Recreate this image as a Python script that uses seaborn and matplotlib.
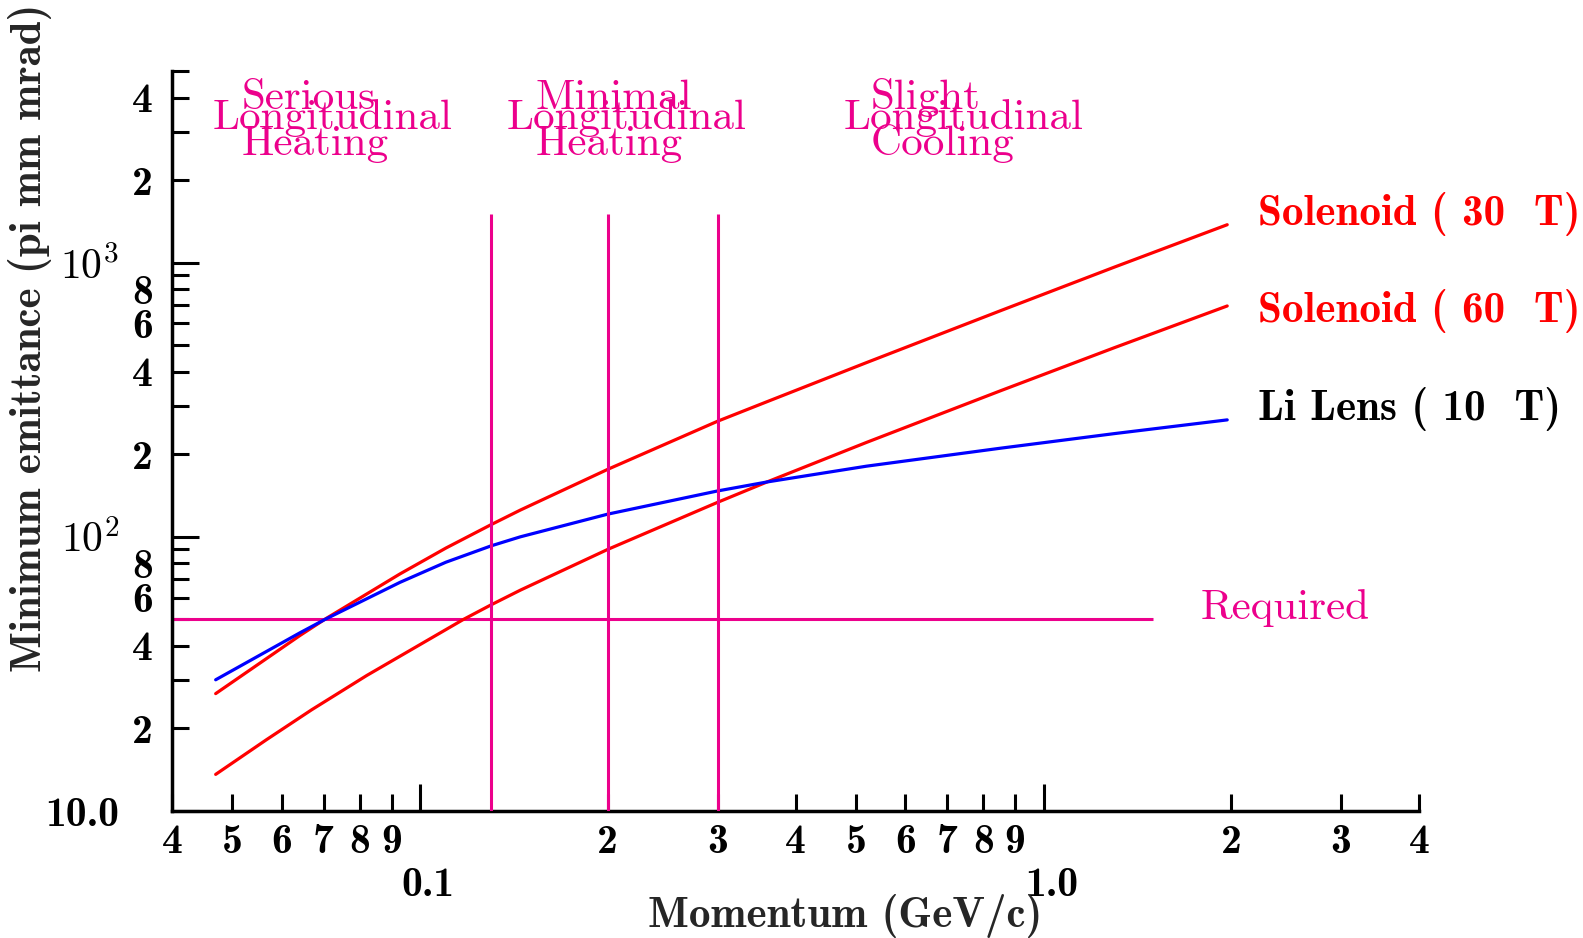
import pandas as pd
import matplotlib
matplotlib.use("Agg")
import matplotlib.pyplot as plt
import matplotlib.ticker as mticker
from matplotlib.transforms import ScaledTranslation
import seaborn as sns

# Curves (momentum in GeV/c, emittance in pi mm mrad)
momentum = [0.047, 0.0642, 0.0704, 0.0928, 0.11, 0.13, 0.1448, 0.2, 0.3, 0.36, 0.52, 0.853, 1.3, 1.97]
solenoid_30t = [26.8, 43.7, 50.1, 73.2, 91.0, 110.8, 125.2, 176.3, 264, 311, 432, 668, 964, 1375]
li_lens_10t = [30.1, 44.7, 50, 68.2, 80.8, 92.7, 100, 121, 147, 158.5, 181, 210.5, 238, 267]

momentum_60t = [0.047, 0.0567, 0.067, 0.0821, 0.1174, 0.13, 0.1448, 0.2, 0.3, 0.36, 0.52, 0.853, 1.3, 1.97]
solenoid_60t = [13.6, 18.2, 23.4, 31.2, 50, 56.5, 63.9, 90, 133.6, 158.5, 221, 341, 490, 695]

required_emittance = 50
required_span = [0.04, 1.5]
regime_bounds = [0.13, 0.2, 0.3]
regime_top = 1500

x_major = [0.1, 1.0]
x_major_labels = ["0.1", "1.0"]
x_minor = [0.04, 0.05, 0.06, 0.07, 0.08, 0.09,
           0.2, 0.3, 0.4, 0.5, 0.6, 0.7, 0.8, 0.9, 2, 3, 4]
x_minor_labels = ["4", "5", "6", "7", "8", "9",
                  "2", "3", "4", "5", "6", "7", "8", "9", "2", "3", "4"]
y_major = [10, 100, 1000]
y_major_labels = ["10.0", r"$10^2$", r"$10^3$"]
y_minor = [20, 30, 40, 50, 60, 70, 80, 90,
           200, 300, 400, 500, 600, 700, 800, 900,
           2000, 3000, 4000, 5000]
y_minor_labels = ["2", "", "4", "", "6", "", "8", "",
                  "2", "", "4", "", "6", "", "8", "",
                  "2", "", "4", ""]

MAGENTA = "#ec008c"

sns.set_theme(style="white")
plt.rcParams["font.family"] = ["cmb10", "DejaVu Serif"]
plt.rcParams["mathtext.fontset"] = "cm"
plt.rcParams["axes.unicode_minus"] = False

fig = plt.figure(figsize=(15.83, 9.38), dpi=100)
ax = fig.add_axes([172 / 1583, 1 - 811 / 938, (1419 - 172) / 1583, (811 - 71) / 938])

df = pd.DataFrame({"momentum": momentum, "s30": solenoid_30t, "li": li_lens_10t})
df60 = pd.DataFrame({"momentum": momentum_60t, "s60": solenoid_60t})

ax.set_xscale("log")
ax.set_yscale("log")

sns.lineplot(data=df, x="momentum", y="s30", color="#ff0000", lw=2.3, ax=ax, zorder=3)
sns.lineplot(data=df60, x="momentum", y="s60", color="#ff0000", lw=2.3, ax=ax, zorder=3)
sns.lineplot(data=df, x="momentum", y="li", color="#0000ff", lw=2.3, ax=ax, zorder=3)

ax.hlines(required_emittance, required_span[0], required_span[1], color=MAGENTA, lw=2.2, zorder=2)
ax.vlines(regime_bounds, 10, regime_top, color=MAGENTA, lw=2.2, zorder=4)

ax.set_xlim(0.04, 4)
ax.set_ylim(10, 5000)
ax.set_xlabel("")
ax.set_ylabel("")

ax.xaxis.set_major_locator(mticker.FixedLocator(x_major))
ax.xaxis.set_major_formatter(mticker.FixedFormatter(x_major_labels))
ax.xaxis.set_minor_locator(mticker.FixedLocator(x_minor))
ax.xaxis.set_minor_formatter(mticker.FixedFormatter(x_minor_labels))
ax.yaxis.set_major_locator(mticker.FixedLocator(y_major))
ax.yaxis.set_major_formatter(mticker.FixedFormatter(y_major_labels))
ax.yaxis.set_minor_locator(mticker.FixedLocator(y_minor))
ax.yaxis.set_minor_formatter(mticker.FixedFormatter(y_minor_labels))

ax.tick_params(which="both", direction="in", color="black", labelsize=30,
               labelcolor="black", bottom=True, left=True, top=False, right=False)
ax.tick_params(which="major", length=19.5, width=2.2)
ax.tick_params(which="minor", length=12.2, width=2.2)
ax.tick_params(axis="x", which="major", pad=40)
ax.tick_params(axis="x", which="minor", pad=9)
ax.tick_params(axis="y", which="major", pad=38)
ax.tick_params(axis="y", which="minor", pad=14)

# major x labels sit a little right of their ticks in the reference
for lbl in ax.xaxis.get_majorticklabels():
    lbl.set_transform(lbl.get_transform() + ScaledTranslation(0.08, 0, fig.dpi_scale_trans))

sns.despine(ax=ax)
for side in ["left", "bottom"]:
    ax.spines[side].set_linewidth(2.5)
    ax.spines[side].set_color("black")

# regime annotations (regular weight)
reg = dict(color=MAGENTA, fontsize=31, family=["cmr10", "DejaVu Serif"],
           ha="left", va="baseline")
ax.text(0.0518, 3631, "Serious", **reg)
ax.text(0.0465, 3071, "Longitudinal", **reg)
ax.text(0.0518, 2470, "Heating", **reg)
ax.text(0.1530, 3631, "Minimal", **reg)
ax.text(0.1375, 3071, "Longitudinal", **reg)
ax.text(0.1530, 2470, "Heating", **reg)
ax.text(0.5276, 3631, "Slight", **reg)
ax.text(0.4776, 3071, "Longitudinal", **reg)
ax.text(0.5276, 2470, "Cooling", **reg)
ax.text(1.787, required_emittance, "Required", **reg)

# curve labels (bold)
lab = dict(fontsize=31, ha="left", va="baseline")
ax.text(2.205, 1371, "Solenoid ( 30  T)", color="#ff0000", **lab)
ax.text(2.205, 610, "Solenoid ( 60  T)", color="#ff0000", **lab)
ax.text(2.205, 266, "Li Lens ( 10  T)", color="black", **lab)

fig.text(845 / 1583, 1 - 927 / 938, "Momentum (GeV/c)", fontsize=31,
         ha="center", va="baseline")
fig.text(30 / 1583, 1 - 338 / 938, "Minimum emittance (pi mm mrad)", fontsize=31,
         rotation=90, ha="center", va="center")

fig.savefig("out.png", dpi=100)
